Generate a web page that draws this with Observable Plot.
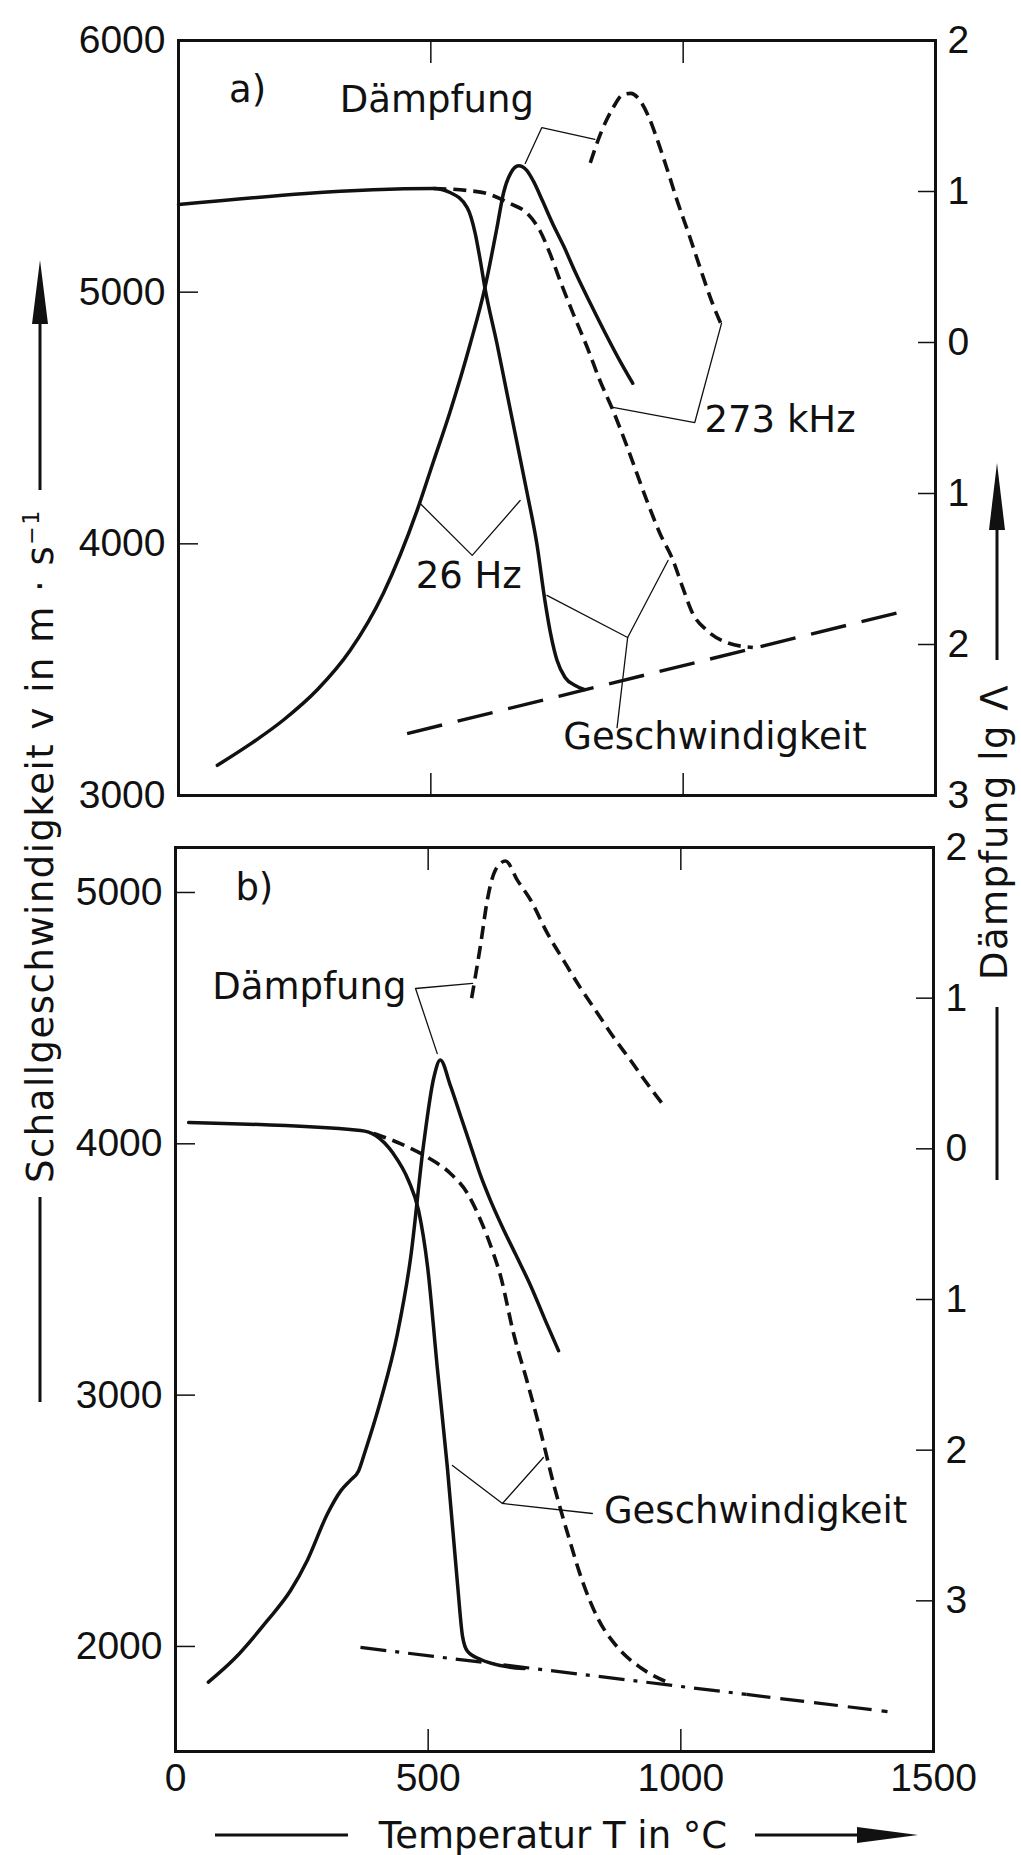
<!DOCTYPE html>
<html>
<head>
<meta charset="utf-8">
<script src="https://cdn.jsdelivr.net/npm/d3@7"></script>
<script src="https://cdn.jsdelivr.net/npm/@observablehq/plot@0.6"></script>
<style>
  html, body { margin: 0; padding: 0; background: #fff; overflow: hidden; }
  #chart { position: relative; width: 1021px; height: 1855px; background: #fff; overflow: hidden; color: #111; }
  .title { position: absolute; white-space: nowrap; font-family: "DejaVu Sans", sans-serif; font-size: 37px; line-height: 1; color: #111; transform: translate(-50%, -50%); }
  .title.rot { transform: translate(-50%, -50%) rotate(-90deg); letter-spacing: 1.5px; }
  .title sup { font-size: 0.6em; vertical-align: 0.6em; line-height: 0; }
</style>
</head>
<body>
<div id="chart"></div>
<script>
// ---------------- ticks ----------------
const xDomain = [0, 1500];
const xTicks = [0, 500, 1000, 1500];
const xTickLabels = ["0", "500", "1000", "1500"];
const xInnerTicks = [500, 1000];
const vDomainA = [3000, 6000];
const vTicksA = [3000, 4000, 5000, 6000];
const vDomainB = [1582, 5179];
const vTicksB = [2000, 3000, 4000, 5000];
const lgDomainA = [-3, 2];
const lgDomainB = [-4, 2];
const lgTicks = [2, 1, 0, -1, -2, -3];
const lgTickLabels = ["2", "1", "0", "1", "2", "3"];

// ---------------- panel a) ----------------
// velocity, 26 Hz (solid)
const aV26_T = [0, 505, 538, 572, 588, 598, 607, 631, 651, 671, 691, 710, 726, 738, 750, 766, 786, 805];
const aV26_v = [5348, 5412, 5396, 5336, 5233, 5126, 5019, 4796, 4597, 4399, 4200, 4001, 3775, 3636, 3537, 3469, 3437, 3421];
// velocity, 273 kHz (dashed)
const aV273_T = [505, 572, 611, 657, 691, 716, 736, 756, 782, 810, 835, 861, 888, 928, 954, 980, 999, 1019, 1047, 1086, 1138];
const aV273_v = [5412, 5404, 5392, 5352, 5313, 5245, 5154, 5046, 4915, 4780, 4649, 4530, 4391, 4172, 4041, 3934, 3827, 3723, 3656, 3608, 3588];
// high temperature velocity line (long dashes)
const aVhigh_T = [453, 1435];
const aVhigh_v = [3246, 3731];
// damping lg Λ, 26 Hz (solid)
const aD26_T = [77, 142, 208, 275, 340, 406, 473, 505, 538, 578, 607, 631, 644, 658, 674, 690, 703, 721, 741, 763, 787, 816, 846, 876, 900];
const aD26_lg = [-2.80, -2.66, -2.50, -2.30, -2.04, -1.66, -1.11, -0.79, -0.46, -0.01, 0.36, 0.76, 0.99, 1.12, 1.17, 1.14, 1.07, 0.94, 0.79, 0.64, 0.46, 0.26, 0.06, -0.13, -0.27];
// damping lg Λ, 273 kHz (dashed)
const aD273_T = [816, 836, 862, 880, 896, 915, 931, 949, 969, 989, 1011, 1034, 1058, 1074];
const aD273_lg = [1.19, 1.38, 1.56, 1.64, 1.65, 1.60, 1.50, 1.34, 1.14, 0.93, 0.72, 0.49, 0.26, 0.13];
// annotation labels (T, v)
const aLabelText = ["a)", "Dämpfung", "273 kHz", "26 Hz", "Geschwindigkeit"];
const aLabelT = [137, 512, 1192, 575, 1063];
const aLabelV = [5801, 5762, 4490, 3870, 3230];
// leader lines (T, v)
const aLeadDamp_T = [687, 720, 825], aLeadDamp_v = [5511, 5654, 5607];
const aLead273_T = [1076, 1023, 861], aLead273_v = [4876, 4482, 4542];
const aLead26_T = [479, 582, 677], aLead26_v = [4160, 3954, 4172];
const aLeadVel_T = [730, 890, 970], aLeadVel_v = [3795, 3628, 3934];
const aLeadVel2_T = [890, 869], aLeadVel2_v = [3628, 3270];

// ---------------- panel b) ----------------
const bV26_T = [26, 366, 396, 431, 461, 481, 499, 518, 538, 558, 568, 578, 604, 643, 690];
const bV26_v = [4085, 4053, 4033, 3961, 3854, 3735, 3508, 3110, 2712, 2250, 2040, 1980, 1948, 1924, 1912];
const bV273_T = [392, 445, 499, 544, 578, 604, 629, 643, 669, 697, 722, 748, 776, 807, 835, 875, 920, 974];
const bV273_v = [4041, 4001, 3946, 3882, 3802, 3695, 3564, 3476, 3245, 3046, 2859, 2648, 2449, 2250, 2115, 1996, 1916, 1857];
const bVhighDD_T = [366, 1130], bVhighDD_v = [1996, 1809];
const bVhighD_T = [1130, 1409], bVhighD_v = [1809, 1741];
const bD26_T = [65, 115, 182, 228, 261, 301, 327, 346, 362, 376, 406, 439, 465, 491, 511, 524, 544, 564, 584, 604, 623, 647, 673, 703, 732, 758];
const bD26_lg = [-3.54, -3.39, -3.13, -2.93, -2.73, -2.42, -2.27, -2.20, -2.14, -2.00, -1.67, -1.23, -0.73, 0.03, 0.47, 0.59, 0.42, 0.22, 0.02, -0.18, -0.34, -0.52, -0.70, -0.91, -1.14, -1.34];
const bD273_T = [586, 604, 617, 633, 653, 677, 703, 736, 768, 801, 835, 867, 900, 934, 970];
const bD273_lg = [1.00, 1.36, 1.65, 1.85, 1.91, 1.78, 1.65, 1.43, 1.25, 1.07, 0.90, 0.74, 0.59, 0.43, 0.27];
const bLabelText = ["b)", "Dämpfung", "Geschwindigkeit"];
const bLabelT = [156, 265, 1148];
const bLabelV = [5016, 4622, 2537];
const bLeadDamp_T = [588, 475, 518], bLeadDamp_v = [4638, 4618, 4359];
const bLeadVel_T = [548, 647, 728], bLeadVel_v = [2720, 2569, 2752];
const bLeadVel2_T = [647, 825], bLeadVel2_v = [2569, 2529];

// ---------------- helpers ----------------
const INK = "#111";
const chart = document.getElementById("chart");
const zip = (T, Y) => T.map((t, i) => ({T: t, y: Y[i]}));
const labels = (txt, T, V) => txt.map((s, i) => ({text: s, T: T[i], y: V[i]}));
const lgFmt = d => lgTickLabels[lgTicks.indexOf(d)];
const xFmt = d => xTickLabels[xTicks.indexOf(d)];

const solid = {x: "T", y: "y", stroke: INK, strokeWidth: 3.5, curve: "monotone-x", strokeLinejoin: "round", strokeLinecap: "round"};
const shortDash = {...solid, strokeWidth: 3.6, strokeDasharray: "13,7", strokeLinecap: "butt"};
const longDash = {...solid, strokeWidth: 3.4, strokeDasharray: "36,16", strokeLinecap: "butt", curve: "linear"};
const dashDot = {...solid, strokeWidth: 3.2, strokeDasharray: "26,9,4,9", strokeLinecap: "butt", curve: "linear"};
const dashTail = {...solid, strokeWidth: 3.2, strokeDasharray: "24,10", strokeLinecap: "butt", curve: "linear"};
const leader = {x: "T", y: "y", stroke: INK, strokeWidth: 1.3, curve: "linear"};
const textOpts = {x: "T", y: "y", text: "text", fontFamily: "DejaVu Sans", fontSize: 37, fill: INK, textAnchor: "middle"};
const tickFont = {fontFamily: "Liberation Sans, Arial, sans-serif", fontSize: 39, fill: INK, stroke: INK, strokeWidth: 1.5};

const geomA = {top: 0, height: 830, marginTop: 40, marginBottom: 35, marginLeft: 178, marginRight: 86};
const geomB = {top: 800, height: 1055, marginTop: 47, marginBottom: 104, marginLeft: 175, marginRight: 88};

function base(g) {
  return {
    width: 1021, height: g.height,
    marginTop: g.marginTop, marginBottom: g.marginBottom, marginLeft: g.marginLeft, marginRight: g.marginRight,
    style: {background: "transparent", overflow: "visible", color: INK, fontFamily: "Liberation Sans, Arial, sans-serif"}
  };
}
function mount(svg, top) {
  svg.style.position = "absolute";
  svg.style.left = "0px";
  svg.style.top = top + "px";
  svg.style.maxWidth = "none";
  chart.appendChild(svg);
}

// ---------------- panel a: velocity layer ----------------
mount(Plot.plot({
  ...base(geomA),
  x: {domain: xDomain},
  y: {domain: vDomainA},
  marks: [
    Plot.frame({stroke: INK, strokeWidth: 3}),
    Plot.axisY({anchor: "left", ticks: vTicksA, tickSize: -20, tickPadding: 33, tickFormat: d => String(d), label: null, ...tickFont}),
    Plot.axisX({anchor: "top", ticks: xInnerTicks, tickSize: -22, tickFormat: () => "", label: null, ...tickFont}),
    Plot.axisX({anchor: "bottom", ticks: xInnerTicks, tickSize: -22, tickFormat: () => "", label: null, ...tickFont}),
    Plot.line(zip(aVhigh_T, aVhigh_v), longDash),
    Plot.line(zip(aV26_T, aV26_v), solid),
    Plot.line(zip(aV273_T, aV273_v), shortDash),
    Plot.line(zip(aLeadDamp_T, aLeadDamp_v), leader),
    Plot.line(zip(aLead273_T, aLead273_v), leader),
    Plot.line(zip(aLead26_T, aLead26_v), leader),
    Plot.line(zip(aLeadVel_T, aLeadVel_v), leader),
    Plot.line(zip(aLeadVel2_T, aLeadVel2_v), leader),
    Plot.text(labels(aLabelText, aLabelT, aLabelV), textOpts)
  ]
}), geomA.top);

// ---------------- panel a: damping layer ----------------
mount(Plot.plot({
  ...base(geomA),
  x: {domain: xDomain, axis: null},
  y: {domain: lgDomainA},
  marks: [
    Plot.axisY({anchor: "right", ticks: lgTicks, tickSize: -18, tickPadding: 30, tickFormat: lgFmt, label: null, ...tickFont}),
    Plot.line(zip(aD26_T, aD26_lg), solid),
    Plot.line(zip(aD273_T, aD273_lg), shortDash)
  ]
}), geomA.top);

// ---------------- panel b: velocity layer ----------------
mount(Plot.plot({
  ...base(geomB),
  x: {domain: xDomain},
  y: {domain: vDomainB},
  marks: [
    Plot.frame({stroke: INK, strokeWidth: 3}),
    Plot.axisY({anchor: "left", ticks: vTicksB, tickSize: -20, tickPadding: 33, tickFormat: d => String(d), label: null, ...tickFont}),
    Plot.axisX({anchor: "top", ticks: xInnerTicks, tickSize: -22, tickFormat: () => "", label: null, ...tickFont}),
    Plot.axisX({anchor: "bottom", ticks: xTicks, tickSize: -22, tickPadding: 34, tickFormat: xFmt, label: null, ...tickFont}),
    Plot.line(zip(bVhighDD_T, bVhighDD_v), dashDot),
    Plot.line(zip(bVhighD_T, bVhighD_v), dashTail),
    Plot.line(zip(bV26_T, bV26_v), solid),
    Plot.line(zip(bV273_T, bV273_v), shortDash),
    Plot.line(zip(bLeadDamp_T, bLeadDamp_v), leader),
    Plot.line(zip(bLeadVel_T, bLeadVel_v), leader),
    Plot.line(zip(bLeadVel2_T, bLeadVel2_v), leader),
    Plot.text(labels(bLabelText, bLabelT, bLabelV), textOpts)
  ]
}), geomB.top);

// ---------------- panel b: damping layer ----------------
mount(Plot.plot({
  ...base(geomB),
  x: {domain: xDomain, axis: null},
  y: {domain: lgDomainB},
  marks: [
    Plot.axisY({anchor: "right", ticks: lgTicks, tickSize: -18, tickPadding: 30, tickFormat: lgFmt, label: null, ...tickFont}),
    Plot.line(zip(bD26_T, bD26_lg), solid),
    Plot.line(zip(bD273_T, bD273_lg), shortDash)
  ]
}), geomB.top);

// ---------------- axis titles ----------------
function title(html, left, top, rot) {
  const d = document.createElement("div");
  d.className = "title" + (rot ? " rot" : "");
  d.innerHTML = html;
  d.style.left = left + "px";
  d.style.top = top + "px";
  chart.appendChild(d);
}
title("Schallgeschwindigkeit v in m · s<sup>−1</sup>", 40, 846, true);
title("Dämpfung lg Λ", 994, 832, true);
title("Temperatur T in °C", 553, 1835, false);

// decorative title rules and arrows
const deco = d3.select(chart).append("svg")
  .attr("width", 1021).attr("height", 1855)
  .style("position", "absolute").style("left", 0).style("top", 0).style("pointer-events", "none");
const rule = (x1, y1, x2, y2) => deco.append("line").attr("x1", x1).attr("y1", y1).attr("x2", x2).attr("y2", y2).attr("stroke", INK).attr("stroke-width", 3);
const head = pts => deco.append("polygon").attr("points", pts.map(p => p.join(",")).join(" ")).attr("fill", INK);
rule(40, 320, 40, 490); head([[40, 260], [32, 324], [48, 324]]);
rule(40, 1197, 40, 1402);
rule(997, 526, 997, 660); head([[997, 463], [989, 530], [1005, 530]]);
rule(997, 1007, 997, 1180);
rule(215, 1835, 348, 1835);
rule(755, 1835, 862, 1835); head([[918, 1835], [857, 1827], [857, 1843]]);
</script>
</body>
</html>
